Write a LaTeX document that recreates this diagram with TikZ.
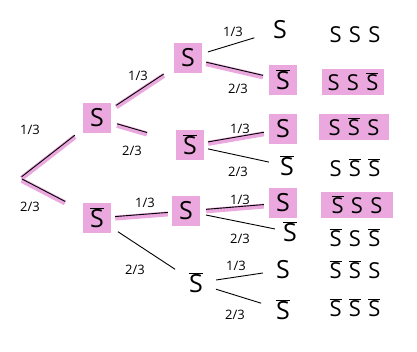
\documentclass[tikz,border=0pt]{standalone}
\usepackage{fontspec}
\setmainfont{Open Sans}
\definecolor{hlpink}{RGB}{234,168,222}
\newcommand\Sb{$\overline{\mbox{S}}$}
\tikzset{
 lab/.style={font=\fontsize{13}{13}\selectfont, inner sep=1pt},
 st/.style={font=\fontsize{25}{25}\selectfont, inner sep=1pt, minimum width=28pt, minimum height=30pt},
 hl/.style={fill=hlpink},
 outc/.style={font=\fontsize{22}{22}\selectfont, inner sep=3pt, minimum height=26pt},
 edge/.style={line width=0.9pt, shorten <=5pt, shorten >=9pt},
 hledge/.style={edge, preaction={draw=hlpink, line width=5pt, transform canvas={yshift=-1.5pt}}},
}
\begin{document}
\begin{tikzpicture}[x=1pt,y=-1pt]
\useasboundingbox[fill=white] (0,0) rectangle (417,352);
\coordinate (R) at (20,178);
% level 1
\node[st,hl] (S1) at (97,118) {S};
\node[st,hl] (B1) at (97,218) {\Sb};
% level 2
\node[st,hl] (S2) at (188,58) {S};
\node[st,hl] (B2) at (190,145) {\Sb};
\node[st,hl] (S3) at (186,211) {S};
\node[st] (B3) at (196,283) {\Sb};
% level 3
\node[st] (L1) at (280,30) {S};
\node[st,hl] (L2) at (283,80) {\Sb};
\node[st,hl] (L3) at (283,129) {S};
\node[st] (L4) at (287,166) {\Sb};
\node[st,hl] (L5) at (283,203) {S};
\node[st] (L6) at (290,232) {\Sb};
\node[st] (L7) at (283,270) {S};
\node[st] (L8) at (283,310) {\Sb};
% outcomes
\node[outc] (O1) at (355,35) {S\,\,S\,\,S};
\node[outc,hl,minimum width=62pt] (O2) at (353,82) {S\,\,S\,\,\Sb};
\node[outc,hl,minimum width=70pt] (O3) at (354,127) {S\,\,\Sb\,\,S};
\node[outc] (O4) at (355,168) {S\,\,\Sb\,\,\Sb};
\node[outc,hl,minimum width=72pt] (O5) at (357,205) {\Sb\,\,S\,\,S};
\node[outc] (O6) at (355,238) {\Sb\,\,S\,\,\Sb};
\node[outc] (O7) at (355,270) {\Sb\,\,\Sb\,\,S};
\node[outc] (O8) at (355,308) {\Sb\,\,\Sb\,\,\Sb};
% edges
\draw[hledge, shorten <=2pt, shorten >=10pt] (R) -- (S1);
\draw[hledge, shorten <=2pt, shorten >=20pt] (R) -- (B1);
\draw[hledge, shorten <=6pt, shorten >=12pt] (S1) -- (S2);
\draw[hledge, shorten <=6pt, shorten >=30pt] (S1) -- (B2);
\draw[hledge, shorten <=4pt, shorten >=4pt] (B1) -- (S3);
\draw[edge, shorten <=8pt, shorten >=8pt] (B1) -- (B3);
\draw[edge, shorten <=6pt, shorten >=12pt] (S2) -- (L1);
\draw[hledge, shorten <=4pt, shorten >=6pt] (S2) -- (L2);
\draw[hledge, shorten <=4pt, shorten >=5pt] (B2) -- (L3);
\draw[edge, shorten <=4pt, shorten >=4pt] (B2) -- (L4);
\draw[hledge, shorten <=6pt, shorten >=5pt] (S3) -- (L5);
\draw[edge, shorten <=6pt, shorten >=1pt] (S3) -- (L6);
\draw[edge, shorten <=6pt, shorten >=6pt] (B3) -- (L7);
\draw[edge, shorten <=6pt, shorten >=8pt] (B3) -- (L8);
% labels
\node[lab] (p1) at (30,130) {1/3};
\node[lab] (p2) at (30,207) {2/3};
\node[lab] (p3) at (138,76) {1/3};
\node[lab] (p4) at (132,151) {2/3};
\node[lab] (p5) at (145,203) {1/3};
\node[lab] (p6) at (135,270) {2/3};
\node[lab] (p7) at (233,32) {1/3};
\node[lab] (p8) at (238,89) {2/3};
\node[lab] (p9) at (240,129) {1/3};
\node[lab] (p10) at (238,172) {2/3};
\node[lab] (p11) at (240,200) {1/3};
\node[lab] (p12) at (240,239) {2/3};
\node[lab] (p13) at (236,266) {1/3};
\node[lab] (p14) at (235,315) {2/3};
\end{tikzpicture}
\end{document}
